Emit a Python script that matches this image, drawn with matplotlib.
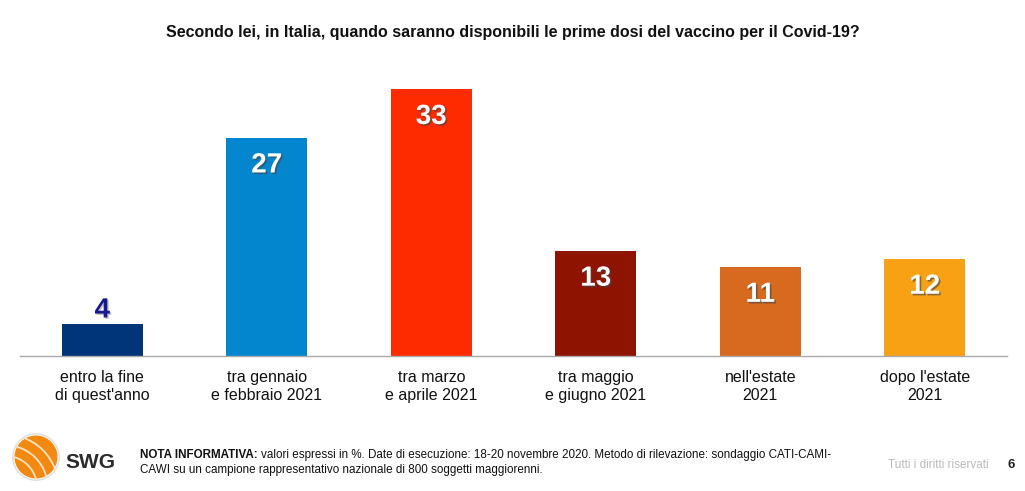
import matplotlib.pyplot as plt
import matplotlib.patheffects as pe
from matplotlib.patches import Circle, Arc

plt.rcParams['font.family'] = ['Liberation Sans', 'DejaVu Sans']

categories = ["entro la fine\ndi quest'anno", "tra gennaio\ne febbraio 2021", "tra marzo\ne aprile 2021",
              "tra maggio\ne giugno 2021", "nell'estate\n2021", "dopo l'estate\n2021"]
values = [4, 27, 33, 13, 11, 12]
colors = ["#01357A", "#0486CE", "#FE2A00", "#8E1301", "#D86A20", "#F9A114"]

fig = plt.figure(figsize=(10.25, 4.91), dpi=100)
ax = fig.add_axes([20 / 1025, 135 / 491, 987 / 1025, 283 / 491])

x = list(range(len(values)))
bars = ax.bar(x, values, width=0.495, color=colors, zorder=2)
ax.set_xlim(-0.5, 5.5)
ax.set_ylim(0, 35)

shadow = [pe.SimplePatchShadow(offset=(1.2, -1.2), shadow_rgbFace="#444444", alpha=0.6), pe.Normal()]
for b, v in zip(bars, values):
    cx = b.get_x() + b.get_width() / 2
    if v < 6:
        ax.annotate(str(v), (cx, v), xytext=(0, 9.5), textcoords="offset points",
                    ha="center", va="center", fontsize=20, fontweight="bold", color="#17188C",
                    path_effects=[pe.SimplePatchShadow(offset=(1, -1), shadow_rgbFace="#888888", alpha=0.5), pe.Normal()])
    else:
        ax.annotate(str(v), (cx, v), xytext=(0, -20), textcoords="offset points",
                    ha="center", va="center", fontsize=20, fontweight="bold", color="white",
                    path_effects=shadow)

ax.set_xticks(x)
ax.set_xticklabels(categories, fontsize=11.5, color="#111111", linespacing=1.25)
ax.tick_params(axis="x", length=0, pad=10)
ax.set_yticks([])
for s in ["top", "right", "left"]:
    ax.spines[s].set_visible(False)
ax.spines["bottom"].set_color("#AAAAAA")
ax.spines["bottom"].set_linewidth(1)

fig.text(0.5, 1 - 32 / 491, "Secondo lei, in Italia, quando saranno disponibili le prime dosi del vaccino per il Covid-19?",
         ha="center", va="center", fontsize=11.5, fontweight="bold", color="#111111")

# footer logo
lax = fig.add_axes([10 / 1025, 8 / 491, 52 / 1025, 52 / 491])
lax.set_xlim(-1.1, 1.1)
lax.set_ylim(-1.1, 1.1)
lax.set_aspect("equal")
lax.axis("off")
ring = Circle((0, 0), 0.98, fill=False, ec="#DDDDDD", lw=1.0)
lax.add_patch(ring)
sphere = Circle((0, 0), 0.88, color="#F28A12")
lax.add_patch(sphere)
for r in [1.35, 1.8, 2.25]:
    a = Arc((-1.3, -1.3), 2 * r, 2 * r, theta1=-10, theta2=100, color="#FCE3C2", lw=1.3)
    lax.add_patch(a)
    a.set_clip_path(ring)
fig.text(65 / 1025, 1 - 463 / 491, "SWG", ha="left", va="center", fontsize=15, fontweight="bold", color="#2B2B2B")

note_fs = 8.4
t1 = fig.text(140 / 1025, 1 - 455 / 491, "NOTA INFORMATIVA:", ha="left", va="center", fontsize=note_fs,
              fontweight="bold", color="#111111")
fig.text(140 / 1025, 1 - 470 / 491, "CAWI su un campione rappresentativo nazionale di 800 soggetti maggiorenni.",
         ha="left", va="center", fontsize=note_fs, color="#111111")
fig.canvas.draw()
bb = t1.get_window_extent()
fig.text((bb.x1 + 3) / 1025, 1 - 455 / 491,
         "valori espressi in %. Date di esecuzione: 18-20 novembre 2020. Metodo di rilevazione: sondaggio CATI-CAMI-",
         ha="left", va="center", fontsize=note_fs, color="#111111")

fig.text(888 / 1025, 1 - 465 / 491, "Tutti i diritti riservati", ha="left", va="center", fontsize=8.5, color="#BBBBBB")
fig.text(1011 / 1025, 1 - 465 / 491, "6", ha="center", va="center", fontsize=9.5, fontweight="bold", color="#222222")

fig.savefig("out.png", dpi=100)
